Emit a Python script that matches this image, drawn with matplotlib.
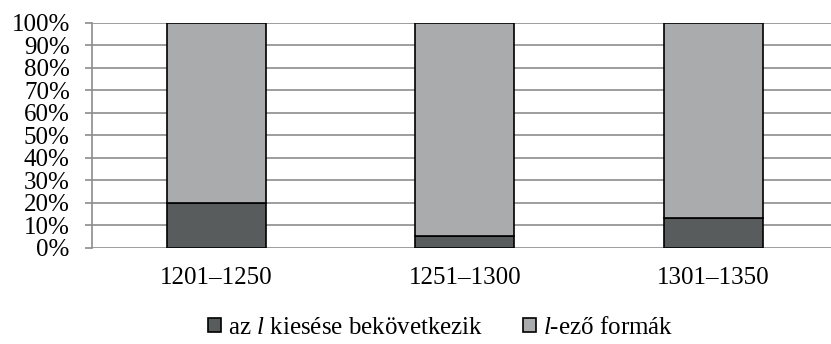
import numpy as np
import matplotlib.pyplot as plt

periods = ['1201–1250', '1251–1300', '1301–1350']
dropped = [19.7, 5.3, 13.0]          # az l kiesése bekövetkezik
kept = [100 - v for v in dropped]    # l-ező formák

plt.rcParams['font.family'] = ['Liberation Serif', 'DejaVu Serif']
plt.rcParams['mathtext.fontset'] = 'custom'
plt.rcParams['mathtext.rm'] = 'Liberation Serif'
plt.rcParams['mathtext.it'] = 'Liberation Serif:italic'

fig = plt.figure(figsize=(8.31, 3.44), dpi=100)
ax = fig.add_axes([92 / 831, 1 - 247.7 / 344, 745.5 / 831, 225 / 344])

x = np.arange(len(periods))
w = 0.4
ax.bar(x, dropped, w, color='#595c5c', edgecolor='black', linewidth=1.2,
       label='az $\\mathit{l}$ kiesése bekövetkezik', zorder=3)
ax.bar(x, kept, w, bottom=dropped, color='#a9abac', edgecolor='black',
       linewidth=1.2, label='$\\mathit{l}$-ező formák', zorder=3)

ax.set_xlim(-0.5, 2.5)
ax.set_ylim(0, 100)
ax.set_yticks(np.arange(0, 101, 10))
ax.set_yticklabels([f'{v}%' for v in range(0, 101, 10)])
ax.set_xticks(x)
ax.set_xticklabels(periods)
ax.grid(axis='y', color='#8c8c8c', linewidth=1.2, zorder=0)

for s in ['top', 'right', 'bottom']:
    ax.spines[s].set_visible(False)
ax.spines['left'].set_color('#8c8c8c')
ax.spines['left'].set_linewidth(1.2)
ax.tick_params(axis='y', length=5, color='#8c8c8c', width=1.2, pad=11,
               labelsize=18)
ax.tick_params(axis='x', length=0, pad=14, labelsize=18)

ax.legend(loc='center', bbox_to_anchor=(0.468, -0.355), ncol=2,
          frameon=False, fontsize=18, handlelength=0.5, handleheight=0.5,
          handletextpad=0.3, columnspacing=1.6, borderaxespad=0)

fig.savefig('out.png', dpi=100)
